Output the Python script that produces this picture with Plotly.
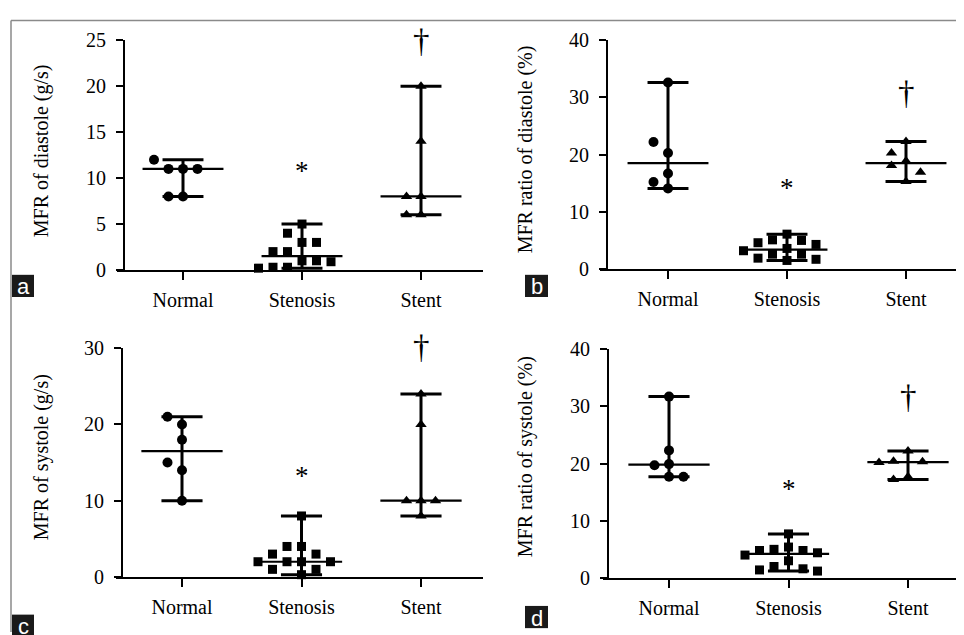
import numpy as np
import plotly.graph_objects as go

W, H = 964, 635
OFF = 8  # the page body adds an 8px margin; compensate so pixels line up

categories = ["Normal", "Stenosis", "Stent"]

# Panel a: MFR of diastole (g/s)
a_normal = [11, 11, 11, 8, 8, 12]
a_stenosis = [5, 4, 3, 3, 2, 2, 1, 1, 0.9, 0.3, 0.3, 0.2]
a_stent = [20, 14, 8, 8, 6, 6]

# Panel b: MFR ratio of diastole (%)
b_normal = [32.6, 20.3, 16.7, 14.1, 22.2, 15.2]
b_stenosis = [6.1, 5.1, 5.0, 4.6, 4.3, 3.6, 3.2, 2.6, 2.6, 1.9, 1.7, 1.5]
b_stent = [22.3, 20.3, 18.9, 18.1, 16.9, 15.3]

# Panel c: MFR of systole (g/s)
c_normal = [20, 21, 18, 14, 15, 10]
c_stenosis = [8, 4, 4, 3, 3, 2, 2, 2, 2, 1, 1, 0.3]
c_stent = [24, 20, 10, 10, 10, 8]

# Panel d: MFR ratio of systole (%)
d_normal = [31.7, 22.3, 19.9, 19.7, 17.7, 17.7]
d_stenosis = [7.7, 5.4, 5.0, 4.8, 4.8, 4.4, 4.0, 3.0, 2.0, 1.6, 1.4, 1.2]
d_stent = [22.2, 20.4, 20.3, 20.2, 17.7, 17.2]

y_titles = ["MFR of diastole (g/s)", "MFR ratio of diastole (%)",
            "MFR of systole (g/s)", "MFR ratio of systole (%)"]
y_max = [25, 40, 30, 40]
y_dtick = [5, 10, 10, 10]
panel_letters = ["a", "b", "c", "d"]
star_y = [10.5, 13.8, 13.0, 15.2]      # "*" above stenosis
dagger_y = [23.5, 28.5, 28.4, 29.4]    # "†" above stent

groups = [
    [a_normal, a_stenosis, a_stent],
    [b_normal, b_stenosis, b_stent],
    [c_normal, c_stenosis, c_stent],
    [d_normal, d_stenosis, d_stent],
]

# ---- layout geometry (pixels in the photographed window) ----
geom = [
    dict(xl=117, ya=124, xr=483, c0=183, cs=119.0, yb=268, yt=30),
    dict(xl=600, ya=607, xr=964, c0=668, cs=119.0, yb=267, yt=30),
    dict(xl=116, ya=122, xr=483, c0=182, cs=119.5, yb=586, yt=349),
    dict(xl=603, ya=608, xr=964, c0=669, cs=119.5, yb=587, yt=350),
]
title_px = [(41, 145), (525, 143), (41, 462), (525, 462)]
label_box_px = [(12, 273, 34, 296), (525, 273, 548, 296),
                (12, 625, 34, 648), (525, 616, 548, 639)]

SERIF = "Liberation Serif, Times New Roman, serif"
symbols = ["circle", "square", "triangle-up"]
msizes = [10, 9, 10]


def px(x):
    return (x - OFF) / W


def py(y):
    return 1 - (y - OFF) / H


def swarm(vals, ppu, thr=12):
    placed = []
    cols = []
    for v in vals:
        y = v * ppu
        chosen = 0
        for c in [0, -1, 1, -2, 2, -3, 3, -4, 4]:
            if all(not (pc == c and abs(pyv - y) < thr) for pc, pyv in placed):
                chosen = c
                break
        placed.append((chosen, y))
        cols.append(chosen)
    return cols


fig = go.Figure()
annotations = []
shapes = []
layout = {}

for p in range(4):
    g = geom[p]
    xn = "x" if p == 0 else f"x{p+1}"
    yn = "y" if p == 0 else f"y{p+1}"
    ppu = (g["yb"] - g["yt"]) / y_max[p]
    step = 14.5 / g["cs"]

    for i, vals in enumerate(groups[p]):
        vals = np.asarray(vals, dtype=float)
        med = float(np.median(vals))
        lo, hi = float(vals.min()), float(vals.max())
        fig.add_trace(go.Scatter(
            x=[i, i, None, i - 0.172, i + 0.172, None, i - 0.172, i + 0.172],
            y=[lo, hi, None, hi, hi, None, lo, lo],
            mode="lines", line=dict(color="black", width=3),
            xaxis=xn, yaxis=yn, showlegend=False, hoverinfo="skip",
            cliponaxis=False))
        fig.add_trace(go.Scatter(
            x=[i - 0.34, i + 0.34], y=[med, med],
            mode="lines", line=dict(color="black", width=2.2),
            xaxis=xn, yaxis=yn, showlegend=False, hoverinfo="skip",
            cliponaxis=False))
        cols = swarm(list(vals), ppu)
        fig.add_trace(go.Scatter(
            x=[i + c * step for c in cols], y=list(vals),
            mode="markers",
            marker=dict(symbol=symbols[i], size=msizes[i], color="black",
                        line=dict(width=0)),
            xaxis=xn, yaxis=yn, showlegend=False, cliponaxis=False))

    axkey = "xaxis" if p == 0 else f"xaxis{p+1}"
    aykey = "yaxis" if p == 0 else f"yaxis{p+1}"
    layout[axkey] = dict(
        domain=[px(g["xl"]), px(g["xr"])],
        range=[(g["xl"] - g["c0"]) / g["cs"], (g["xr"] - g["c0"]) / g["cs"]],
        tickvals=[0, 1, 2], ticktext=categories,
        showline=True, linecolor="black", linewidth=2,
        ticks="outside", ticklen=8, tickwidth=2, tickcolor="black",
        showgrid=False, zeroline=False, anchor=yn,
        tickfont=dict(family=SERIF, size=20, color="black"),
        ticklabelstandoff=3,
        fixedrange=True)
    layout[aykey] = dict(
        domain=[py(g["yb"]), py(g["yt"])],
        range=[0, y_max[p]], dtick=y_dtick[p], tick0=0,
        showline=True, linecolor="black", linewidth=2,
        ticks="outside", ticklen=7, tickwidth=2, tickcolor="black",
        showgrid=False, zeroline=False, anchor="free", position=px(g["ya"]),
        tickfont=dict(family=SERIF, size=20, color="black"),
        ticklabelstandoff=6,
        fixedrange=True)

    tx, ty = title_px[p]
    annotations.append(dict(
        text=y_titles[p], x=px(tx), y=py(ty), xref="paper", yref="paper",
        textangle=-90, showarrow=False, xanchor="center", yanchor="middle",
        font=dict(family=SERIF, size=20, color="black")))
    annotations.append(dict(
        text="*", x=1, y=star_y[p], xref=xn, yref=yn, showarrow=False,
        xanchor="center", yanchor="middle", yshift=2,
        font=dict(family=SERIF, size=27, color="black")))
    annotations.append(dict(
        text="†", x=2, y=dagger_y[p], xref=xn, yref=yn, showarrow=False,
        xanchor="center", yanchor="middle", yshift=13,
        font=dict(family=SERIF, size=33, color="black")))

    x0, y0, x1, y1 = label_box_px[p]
    shapes.append(dict(type="rect", xref="paper", yref="paper",
                       x0=px(x0), x1=px(x1), y0=py(y0), y1=py(y1),
                       fillcolor="#1a1a1a", line=dict(width=0)))
    annotations.append(dict(
        text=panel_letters[p], x=px((x0 + x1) / 2), y=py((y0 + y1) / 2 + 1),
        xref="paper", yref="paper", showarrow=False,
        xanchor="center", yanchor="middle",
        font=dict(family="Liberation Sans, Arial, sans-serif", size=22, color="white")))

# outer frame lines
shapes.append(dict(type="line", xref="paper", yref="paper",
                   x0=px(11), x1=px(972), y0=py(9.5), y1=py(9.5),
                   line=dict(color="#8a8a8a", width=1.5)))
shapes.append(dict(type="line", xref="paper", yref="paper",
                   x0=px(11), x1=px(11), y0=py(9.5), y1=py(643),
                   line=dict(color="#8a8a8a", width=1.5)))

fig.update_layout(
    width=W, height=H, margin=dict(l=0, r=0, t=0, b=0),
    paper_bgcolor="white", plot_bgcolor="white",
    showlegend=False, annotations=annotations, shapes=shapes,
    **layout)

fig.write_html("out.html", config={"displayModeBar": False})
